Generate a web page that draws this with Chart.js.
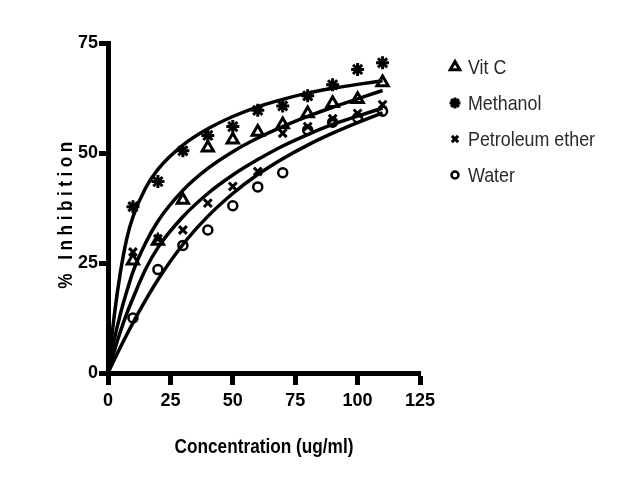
<!DOCTYPE html>
<html>
<head>
<meta charset="utf-8">
<script src="https://cdn.jsdelivr.net/npm/chart.js@4"></script>
<style>
  html, body { margin: 0; padding: 0; background: #fff; }
  #wrap { width: 640px; height: 480px; }
</style>
</head>
<body>
<div id="wrap"><canvas id="chart" width="640" height="480"></canvas></div>
<script>
// measured points (% inhibition at each concentration)
const concentrations = [10, 20, 30, 40, 50, 60, 70, 80, 90, 100, 110];
const vitC     = [25.5, 30, 39.3, 51.2, 53, 54.8, 56.5, 59, 61.3, 62.2, 66];
const methanol = [37.8, 43.5, 50.5, 54, 56, 59.7, 60.7, 63, 65.5, 69, 70.5];
const petEther = [27.5, 30.5, 32.5, 38.6, 42.4, 45.8, 54.5, 56, 57.8, 59, 61];
const water    = [12.5, 23.5, 29, 32.5, 38, 42.3, 45.5, 55.2, 57, 58, 59.5];

// fitted curves
const curveX        = [0, 2.5, 5, 7.5, 10, 15, 20, 30, 40, 50, 60, 70, 80, 90, 100, 110];
const vitCCurve     = [0, 7.5, 13.5, 18.5, 23, 29.5, 34.5, 41.5, 46.5, 50.3, 53.4, 56, 58.3, 60.4, 62.3, 64.2];
const methanolCurve = [0, 13, 23, 30.5, 35.5, 42, 46.3, 51.8, 55.5, 58.3, 60.5, 62.2, 63.6, 64.7, 65.6, 66.4];
const petEtherCurve = [0, 5, 9.5, 13.5, 17, 23.5, 28.5, 35.5, 40.8, 45, 48.5, 51.6, 54.2, 56.5, 58.4, 60.2];
const waterCurve    = [0, 3, 5.9, 8.7, 11.4, 16.5, 21.2, 29.2, 35.6, 40.8, 45.1, 48.7, 51.8, 54.5, 56.9, 59.1];

const seriesNames = ['Vit C', 'Methanol', 'Petroleum ether', 'Water'];
const xTicks = [0, 25, 50, 75, 100, 125];
const yTicks = [0, 25, 50, 75];

const FONT = "'Liberation Sans', Arial, sans-serif";

const markStyles = [
  { style: 'triangle', radius: 6.5, borderWidth: 3,   fill: 'rgba(0,0,0,0)' },
  { style: 'star',     radius: 6.5, borderWidth: 3,   fill: '#000' },
  { style: 'crossRot', radius: 5.5, borderWidth: 3,   fill: 'rgba(0,0,0,0)' },
  { style: 'circle',   radius: 4.5, borderWidth: 2.5, fill: 'rgba(0,0,0,0)' }
];

function toXY(xs, ys){ return xs.map((x, i) => ({ x, y: ys[i] })); }

// narrow text: the original uses a condensed face, so squeeze horizontally
function narrowText(ctx, text, x, y, font, sx, align, rot){
  ctx.save();
  ctx.translate(x, y);
  if(rot) ctx.rotate(rot);
  ctx.scale(sx, 1);
  ctx.font = font;
  ctx.textAlign = align;
  ctx.textBaseline = 'middle';
  ctx.fillText(text, 0, 0);
  ctx.restore();
}

const pointSets = [vitC, methanol, petEther, water];
const curveSets = [vitCCurve, methanolCurve, petEtherCurve, waterCurve];

const datasets = [];
pointSets.forEach((vals, i) => {
  const st = markStyles[i];
  datasets.push({
    label: seriesNames[i],
    data: toXY(concentrations, vals),
    showLine: false,
    pointStyle: st.style,
    pointRadius: st.radius,
    pointBorderWidth: st.borderWidth,
    pointBorderColor: '#000',
    pointBackgroundColor: st.fill
  });
});
curveSets.forEach((vals, i) => {
  datasets.push({
    label: seriesNames[i] + ' fit',
    data: toXY(curveX, vals),
    showLine: true,
    pointRadius: 0,
    borderColor: '#000',
    borderWidth: 3.5,
    cubicInterpolationMode: 'monotone',
    fill: false
  });
});

// legend on the right, drawn with the same point styles
const sideLegend = {
  id: 'sideLegend',
  afterDraw(chart){
    const ctx = chart.ctx;
    seriesNames.forEach((name, i) => {
      const st = markStyles[i];
      const y = 67 + i * 36;
      ctx.save();
      ctx.strokeStyle = '#000';
      ctx.fillStyle = st.fill;
      ctx.lineWidth = st.borderWidth;
      Chart.helpers.drawPoint(ctx, { pointStyle: st.style, radius: st.radius - 1, borderWidth: st.borderWidth, rotation: 0 }, 455, y);
      ctx.restore();
      ctx.fillStyle = '#2a2a2a';
      narrowText(ctx, name, 468, y + 1, '21px ' + FONT, 0.85, 'left');
    });
  }
};

// axis titles
const axisTitles = {
  id: 'axisTitles',
  afterDraw(chart){
    const ctx = chart.ctx;
    ctx.fillStyle = '#000';
    narrowText(ctx, 'Concentration (ug/ml)', 264, 447, 'bold 21px ' + FONT, 0.82, 'center');
    ctx.save();
    ctx.letterSpacing = '5.5px';
    narrowText(ctx, '% Inhibition', 66, 213, 'bold 21px ' + FONT, 0.82, 'center', -Math.PI / 2);
    ctx.restore();
  }
};

new Chart(document.getElementById('chart'), {
  type: 'scatter',
  data: { datasets },
  plugins: [sideLegend, axisTitles],
  options: {
    responsive: false,
    animation: false,
    layout: { padding: { left: 48, right: 220, top: 43, bottom: 20 } },
    plugins: { legend: { display: false }, tooltip: { enabled: false } },
    scales: {
      x: {
        type: 'linear', min: 0, max: 125,
        afterBuildTicks: s => { s.ticks = xTicks.map(v => ({ value: v })); },
        afterFit: s => { s.height = 87; },
        grid: { drawOnChartArea: false, tickLength: 12, tickWidth: 5, tickColor: '#000' },
        border: { display: true, width: 5, color: '#000' },
        ticks: { padding: 5, color: '#000', font: { family: FONT, size: 18, weight: 'bold' } }
      },
      y: {
        type: 'linear', min: 0, max: 75,
        afterBuildTicks: s => { s.ticks = yTicks.map(v => ({ value: v })); },
        afterFit: s => { s.width = 60; },
        grid: { drawOnChartArea: false, tickLength: 9, tickWidth: 5, tickColor: '#000' },
        border: { display: true, width: 5, color: '#000' },
        ticks: { padding: 1, color: '#000', font: { family: FONT, size: 18, weight: 'bold' } }
      }
    }
  }
});
</script>
</body>
</html>
